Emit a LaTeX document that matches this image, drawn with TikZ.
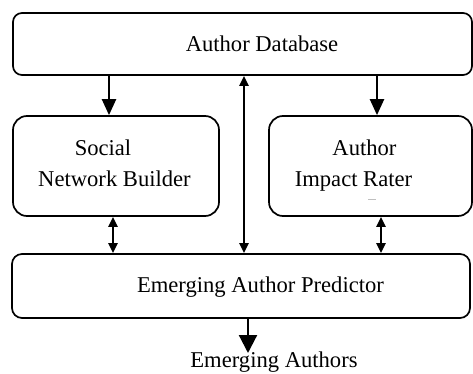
\documentclass[tikz,border=0pt]{standalone}
\usepackage{fontspec}
\setmainfont{Liberation Serif}
\usetikzlibrary{arrows.meta}
\tikzset{
  box/.style={draw, line width=1.7pt, rounded corners=#1, inner sep=0pt},
  lbl/.style={anchor=base, inner sep=0pt, font=\fontsize{22.6}{27}\selectfont},
  bigarrow/.style={line width=2.2pt, -{Triangle[length=16pt,width=14pt]}},
  outarrow/.style={line width=2.2pt, -{Triangle[length=18pt,width=18pt]}},
  dblarrow/.style={line width=2.2pt, {Triangle[length=10pt,width=9pt]}-{Triangle[length=10pt,width=9pt]}},
}
\begin{document}
\begin{tikzpicture}[x=1pt,y=-1pt]
\useasboundingbox (0,0) rectangle (473,374);
% boxes
\node[box=9pt, minimum width=459pt, minimum height=62pt] (db) at (242.5,44) {};
\node[box=14pt, minimum width=206pt, minimum height=100pt] (snb) at (116,166) {};
\node[box=14pt, minimum width=203pt, minimum height=100pt] (air) at (370.5,166) {};
\node[box=10pt, minimum width=458pt, minimum height=64pt] (eap) at (241,286) {};
% labels
\node[lbl] (tdb) at (262,51.5) {Author Database};
\node[lbl] (ts1) at (103,155.5) {Social};
\node[lbl] (ts2) at (114.5,186.5) {Network Builder};
\node[lbl] (ta1) at (364.5,155.5) {Author};
\node[lbl] (ta2) at (353.5,186.5) {Impact Rater};
\node[lbl] (tp) at (260.5,292) {Emerging Author Predictor};
\node[lbl] (tout) at (274,367) {Emerging Authors};
\draw[gray!50, line width=0.7pt] (368,199) -- (376,199);
% x positions
\coordinate (xl) at (109,0);
\coordinate (xr) at (377,0);
\coordinate (xc) at (244,0);
\coordinate (xdl) at (113,0);
\coordinate (xdr) at (381,0);
\coordinate (outend) at (248,353);
% connectors
\draw[bigarrow] (db.south -| xl) -- (snb.north -| xl);
\draw[bigarrow] (db.south -| xr) -- (air.north -| xr);
\draw[dblarrow] (db.south -| xc) -- (eap.north -| xc);
\draw[dblarrow] (snb.south -| xdl) -- (eap.north -| xdl);
\draw[dblarrow] (air.south -| xdr) -- (eap.north -| xdr);
\draw[outarrow] (eap.south -| outend) -- (outend);
\end{tikzpicture}
\end{document}
